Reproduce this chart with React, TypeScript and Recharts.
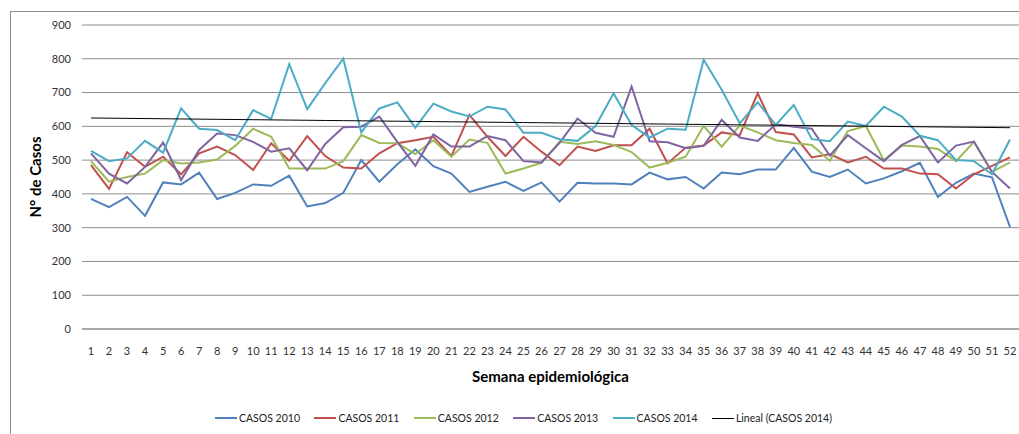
import { LineChart, Line, XAxis, YAxis, CartesianGrid, Legend } from 'recharts';

const weeks = Array.from({ length: 52 }, (_, i) => i + 1);

const casos2010 = [
  385, 361, 391, 335, 434, 428, 463, 385, 403, 428, 424, 454, 363, 373, 403, 500, 436, 488, 532, 482,
  460, 406, 421, 436, 409, 434, 377, 433, 431, 431, 428, 463, 443, 450, 416, 463, 458, 472, 472, 536,
  466, 450, 472, 431, 446, 467, 492, 391, 433, 460, 449, 302,
];
const casos2011 = [
  485, 415, 523, 480, 510, 458, 520, 540, 515, 471, 550, 498, 571, 512, 478, 475, 520, 550, 559, 569,
  512, 634, 569, 512, 569, 525, 485, 540, 527, 544, 544, 593, 490, 537, 543, 582, 574, 698, 583, 576,
  508, 518, 493, 510, 475, 475, 460, 458, 416, 458, 483, 508,
];
const casos2012 = [
  497, 436, 450, 460, 500, 490, 493, 502, 542, 593, 569, 475, 475, 475, 497, 574, 551, 550, 518, 559,
  510, 561, 551, 460, 475, 492, 554, 548, 556, 545, 524, 478, 492, 510, 601, 540, 602, 582, 559, 551,
  545, 498, 586, 601, 500, 543, 540, 533, 497, 554, 465, 493,
];
const casos2013 = [
  520, 460, 431, 480, 552, 441, 530, 579, 574, 554, 525, 535, 470, 548, 597, 599, 629, 554, 483, 576,
  540, 540, 571, 559, 497, 493, 551, 623, 581, 569, 718, 556, 553, 535, 542, 619, 567, 557, 606, 599,
  593, 513, 574, 535, 497, 545, 571, 493, 543, 555, 465, 416,
];
const casos2014 = [
  527, 497, 505, 557, 522, 653, 593, 589, 559, 648, 622, 784, 651, 728, 800, 582, 653, 671, 596, 667,
  644, 629, 658, 650, 581, 581, 562, 557, 601, 698, 604, 567, 593, 590, 797, 708, 609, 671, 604, 663,
  562, 556, 614, 601, 658, 629, 572, 559, 500, 497, 458, 561,
];

const yTicks = [0, 100, 200, 300, 400, 500, 600, 700, 800, 900];

// linear trend (least squares) of CASOS 2014, like Excel's "Lineal" trendline
const n = weeks.length;
const mx = weeks.reduce((a, b) => a + b, 0) / n;
const my = casos2014.reduce((a, b) => a + b, 0) / n;
let sxy = 0;
let sxx = 0;
weeks.forEach((w, i) => {
  sxy += (w - mx) * (casos2014[i] - my);
  sxx += (w - mx) * (w - mx);
});
const slope = sxy / sxx;
const intercept = my - slope * mx;

const data = weeks.map((w, i) => ({
  semana: w,
  c2010: casos2010[i],
  c2011: casos2011[i],
  c2012: casos2012[i],
  c2013: casos2013[i],
  c2014: casos2014[i],
  lineal: intercept + slope * w,
}));

const FONT = 'Lato, "Open Sans", sans-serif';
const GRID = '#8c8c8c';

function LegendRow({ payload }: any) {
  return (
    <div style={{ display: 'flex', paddingLeft: 215, fontFamily: FONT, fontSize: 10.5, color: '#222' }}>
      {(payload || []).map((p: any) => (
        <div key={p.value} style={{ display: 'flex', alignItems: 'center', width: 99.4, flexShrink: 0, whiteSpace: 'nowrap' }}>
          <span style={{ display: 'inline-block', flexShrink: 0, width: 22, height: 0, borderTop: `${p.value.startsWith('Lineal') ? 1 : 2}px solid ${p.color}`, marginRight: 2 }} />
          <span>{p.value}</span>
        </div>
      ))}
    </div>
  );
}

export default function App() {
  return (
    <div style={{ position: 'absolute', left: 0, top: 0, width: 1019, height: 434, overflow: 'hidden', background: '#fff' }}>
      <div style={{ position: 'absolute', left: 10, top: 11, width: 1100, height: 500, border: `1px solid ${GRID}` }} />
      <div style={{ position: 'absolute', left: 0, top: 0 }}>
        <LineChart width={1019} height={434} data={data} margin={{ top: 25, right: 0, bottom: 75, left: 0 }}>
          <CartesianGrid vertical={false} stroke={GRID} strokeWidth={1} />
          <XAxis
            dataKey="semana"
            height={30}
            padding={{ left: 9, right: 9 }}
            axisLine={{ stroke: GRID }}
            tickLine={false}
            tickMargin={12}
            interval={0}
            tick={{ fill: '#333', fontSize: 11, fontFamily: FONT }}
            label={{ value: 'Semana epidemiológica', position: 'bottom', offset: 12, style: { fontFamily: FONT, fontSize: 15, fontWeight: 700, fill: '#000' } }}
          />
          <YAxis
            width={82}
            domain={[0, 900]}
            ticks={yTicks}
            axisLine={false}
            tickLine={false}
            tickMargin={5}
            tick={{ fill: '#333', fontSize: 11, fontFamily: FONT }}
            label={{ value: 'N° de Casos', angle: -90, position: 'insideLeft', offset: 36, style: { textAnchor: 'middle', fontFamily: FONT, fontSize: 15, fontWeight: 700, fill: '#000' } }}
          />
          <Line type="linear" dataKey="c2010" name="CASOS 2010" stroke="#4F81BD" strokeWidth={2} dot={false} isAnimationActive={false} />
          <Line type="linear" dataKey="c2011" name="CASOS 2011" stroke="#C0504D" strokeWidth={2} dot={false} isAnimationActive={false} />
          <Line type="linear" dataKey="c2012" name="CASOS 2012" stroke="#9BBB59" strokeWidth={2} dot={false} isAnimationActive={false} />
          <Line type="linear" dataKey="c2013" name="CASOS 2013" stroke="#8064A2" strokeWidth={2} dot={false} isAnimationActive={false} />
          <Line type="linear" dataKey="c2014" name="CASOS 2014" stroke="#4BACC6" strokeWidth={2} dot={false} isAnimationActive={false} />
          <Line type="linear" dataKey="lineal" name="Lineal (CASOS 2014)" stroke="#000" strokeWidth={1} dot={false} isAnimationActive={false} />
          <Legend verticalAlign="middle" content={<LegendRow />} wrapperStyle={{ top: 412, left: 0, width: 1019 }} />
        </LineChart>
      </div>
    </div>
  );
}
